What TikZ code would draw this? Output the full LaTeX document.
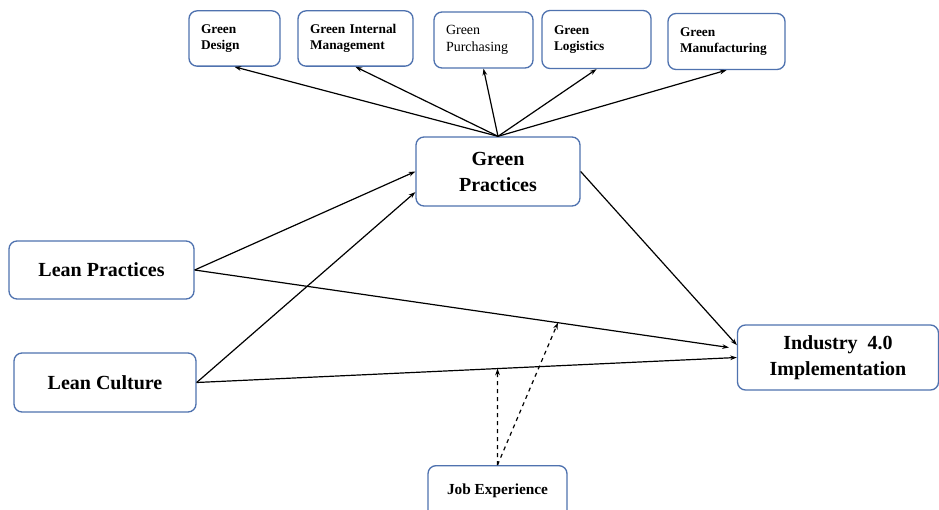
\documentclass[tikz,border=0pt]{standalone}
\usepackage{fontspec}
\setmainfont{Liberation Serif}
\usetikzlibrary{arrows.meta,calc}
\definecolor{boxblue}{RGB}{79,114,175}

\begin{document}
\begin{tikzpicture}
[x=0.75pt,y=-0.75pt,
 every node/.style={draw=boxblue,line width=1pt,rounded corners=6pt,fill=white},
 small/.style={font=\fontsize{10}{12.5}\selectfont\bfseries,align=left,inner xsep=9pt,minimum height=41.5pt},
 big/.style={font=\fontsize{15}{19.5}\selectfont\bfseries,align=center},
 link/.style={draw,line width=0.9pt,-{Stealth[length=5pt,width=3.5pt]}},
 moderate/.style={link,dashed}]
   \useasboundingbox (0,0) rectangle (939,510);
   \clip (0,0) rectangle (939,510);
   % dimensions
   \node[small,text width=50.25pt] (gd)  at (234.5,38.5) {Green\\Design};
   \node[small,text width=68.25pt] (gim) at (355.5,38.5) {Green Internal\\Management};
   \node[small,text width=56.25pt,font=\fontsize{10.5}{12.5}\selectfont,minimum height=42pt] (gpu) at (483.5,40) {Green\\Purchasing\\[3pt]};
   \node[small,text width=63.75pt,minimum height=43.5pt] (glo) at (596.5,39.5) {Green\\Logistics};
   \node[small,text width=69.75pt,minimum height=42pt] (gma) at (726.5,41.5) {Green\\Manufacturing};
   % constructs
   \node[big,minimum width=123pt,minimum height=51.75pt] (gp) at (498,171.5) {Green\\Practices};
   \node[big,minimum width=138.75pt,minimum height=43.5pt] (lp) at (101.5,270) {Lean Practices};
   \node[big,minimum width=136.5pt,minimum height=44.25pt] (lc) at (105,382.5) {Lean Culture};
   \node[big,minimum width=150.75pt,minimum height=48.75pt] (ind) at (838,357.5) {Industry~~4.0\\Implementation};
   \node[font=\fontsize{11.5}{13}\selectfont\bfseries,anchor=north,minimum width=104.25pt,inner ysep=13pt,text height=8.75pt,text depth=20pt] (job) at (497.5,465) {Job Experience\hspace{3pt}};
   \coordinate (m1) at ($(lc.east)!0.557!(ind.west)$);
   \coordinate (m2) at ($(lp.east)!0.67!(ind.175)$);
    \path[every edge/.style=link]
    (gp.north) edge (gd.south)
    (gp.north) edge (gim.south)
    (gp.north) edge (gpu.south)
    (gp.north) edge (glo.south)
    (gp.north) edge (gma.south)
    (lp.east) edge (gp.west)
    (lc.east) edge (gp.194)
    (lp.east) edge[shorten >=6pt] (ind.175)
    (lc.east) edge (ind.west)
    (gp.east) edge (ind.173);
    \path[every edge/.style=moderate]
    (job.north) edge (m1)
    (job.north) edge (m2);

\end{tikzpicture}
\end{document}
